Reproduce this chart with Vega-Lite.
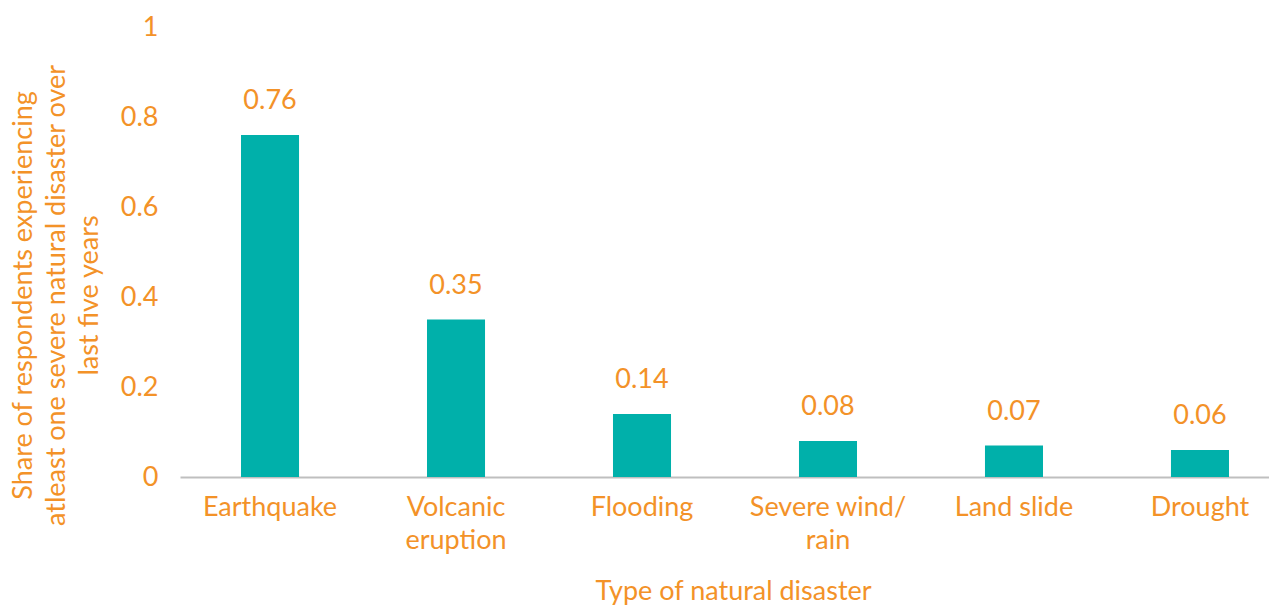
{
  "$schema": "https://vega.github.io/schema/vega-lite/v6.json",
  "width": 1089,
  "height": 450,
  "autosize": {"type": "none"},
  "padding": {"left": 180, "top": 27, "right": 0, "bottom": 130},
  "background": "white",
  "config": {
    "view": {"stroke": null},
    "font": "Lato",
    "axis": {"labelFont": "Lato", "titleFont": "Lato"}
  },
  "data": {
    "values": [
      {"disaster": "Earthquake", "share": 0.76},
      {"disaster": "Volcanic eruption", "share": 0.35},
      {"disaster": "Flooding", "share": 0.14},
      {"disaster": "Severe wind/rain", "share": 0.08},
      {"disaster": "Land slide", "share": 0.07},
      {"disaster": "Drought", "share": 0.06}
    ]
  },
  "encoding": {
    "x": {
      "field": "disaster",
      "type": "nominal",
      "sort": null,
      "scale": {"range": [0, 1110], "paddingInner": 0.688, "paddingOuter": 0.328},
      "axis": {
        "title": "Type of natural disaster",
        "titleColor": "#F39228",
        "titleFontSize": 27,
        "titleFontWeight": "normal",
        "titleX": 553,
        "titleY": 101,
        "titleAnchor": "middle",
        "titleAlign": "center",
        "titleBaseline": "top",
        "labelAngle": 0,
        "labelColor": "#F39228",
        "labelFontSize": 27,
        "labelLineHeight": 33,
        "labelPadding": 17,
        "labelExpr": "datum.value == 'Volcanic eruption' ? ['Volcanic', 'eruption'] : datum.value == 'Severe wind/rain' ? ['Severe wind/', 'rain'] : datum.value",
        "ticks": false,
        "domainColor": "#BFBFBF",
        "domainWidth": 2,
        "grid": false
      }
    },
    "y": {
      "field": "share",
      "type": "quantitative",
      "scale": {"domain": [0, 1], "nice": false},
      "axis": {
        "values": [0, 0.2, 0.4, 0.6, 0.8, 1],
        "format": "~g",
        "title": ["Share of respondents experiencing", "atleast one severe natural disaster over", "last five years"],
        "titleColor": "#F39228",
        "titleFontSize": 27,
        "titleFontWeight": "normal",
        "titleLineHeight": 33,
        "titleX": -170,
        "titleY": 268,
        "titleAngle": -90,
        "titleAlign": "center",
        "titleBaseline": "top",
        "labelColor": "#F39228",
        "labelFontSize": 27,
        "labelPadding": 22,
        "ticks": false,
        "domain": false,
        "grid": false
      }
    }
  },
  "layer": [
    {"mark": {"type": "bar", "color": "#00B0AA"}},
    {
      "mark": {"type": "text", "color": "#F39228", "fontSize": 27, "baseline": "middle", "dy": -34},
      "encoding": {"text": {"field": "share", "type": "quantitative"}}
    }
  ]
}
